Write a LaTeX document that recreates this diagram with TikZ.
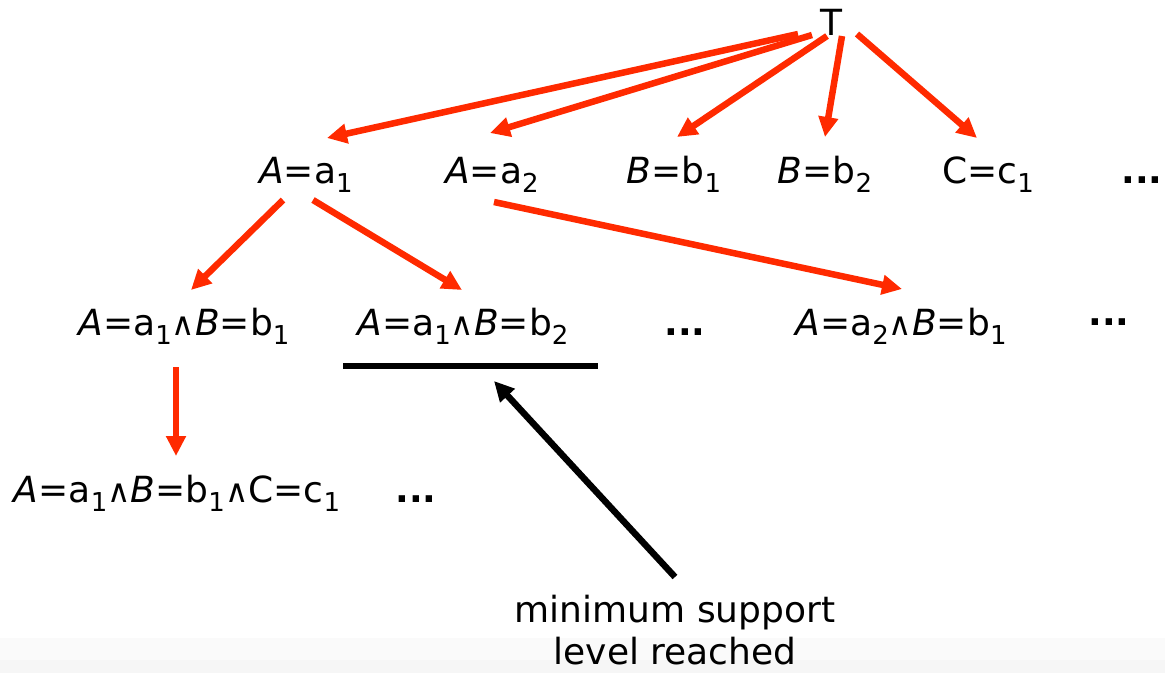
\documentclass[tikz,border=0pt]{standalone}
\usepackage{fontspec}
\setmainfont{DejaVu Sans}
\usetikzlibrary{arrows.meta}
\definecolor{arrowred}{HTML}{FF2A00}
\newcommand{\idx}[1]{\raisebox{-9pt}{\fontsize{26}{26}\selectfont #1}}
\newcommand{\conj}{{\fontsize{32}{32}\selectfont ∧}}

\begin{document}
\begin{tikzpicture}[
    x=1pt, y=-1pt,
    lbl/.style={inner sep=0pt, anchor=base, font=\fontsize{36}{42}\selectfont},
    dotsn/.style={lbl, font=\fontsize{36}{42}\selectfont\bfseries},
    redarrow/.style={-{Triangle[length=20pt,width=19pt]}, line width=6.5pt, draw=arrowred},
    blackarrow/.style={-{Triangle[length=20pt,width=19pt]}, line width=6.5pt, draw=black}
]
\useasboundingbox (0,0) rectangle (1165,673);
\fill[gray!4] (0,638) rectangle (1165,673);
\fill[gray!7] (0,660) rectangle (1165,673);
\node[lbl] (T) at (831,35) {T};
\node[lbl] (a1) at (306,183) {\textit{A}=a\idx{1}};
\node[lbl] (a2) at (492,183) {\textit{A}=a\idx{2}};
\node[lbl] (b1) at (674,183) {\textit{B}=b\idx{1}};
\node[lbl] (b2) at (825,183) {\textit{B}=b\idx{2}};
\node[lbl] (c1) at (988,183) {C=c\idx{1}};
\node[dotsn] (dotsA) at (1142,183) {...};
\node[lbl] (a1b1) at (184,335) {\textit{A}=a\idx{1}\conj\textit{B}=b\idx{1}};
\node[lbl] (a1b2) at (463,335) {\textit{A}=a\idx{1}\conj\textit{B}=b\idx{2}};
\node[dotsn] (dotsB) at (685,335) {...};
\node[lbl] (a2b1) at (901,335) {\textit{A}=a\idx{2}\conj\textit{B}=b\idx{1}};
\node[dotsn] (dotsC) at (1109,325) {...};
\node[lbl] (a1b1c1) at (177,502) {\textit{A}=a\idx{1}\conj\textit{B}=b\idx{1}\conj C=c\idx{1}};
\node[dotsn] (dotsD) at (416,502) {...};
\node[lbl, align=center] (note) at (675,664) {minimum support\\level reached};
\coordinate (ulL) at (343,366);
\coordinate (ulR) at (598,366);
\coordinate (reach) at (494,381);
\draw[redarrow] ([shift={(-33,-1)}]T.base) -- ([shift={(21,-45)}]a1.base);
\draw[redarrow] ([shift={(-19,0)}]T.base) -- ([shift={(-2,-50)}]a2.base);
\draw[redarrow] ([shift={(-4,1)}]T.base) -- ([shift={(3,-46)}]b1.base);
\draw[redarrow] ([shift={(11,1)}]T.base) -- ([shift={(0,-46)}]b2.base);
\draw[redarrow] ([shift={(26,-1)}]T.base) -- ([shift={(-11,-45)}]c1.base);
\draw[redarrow] ([shift={(-23,17)}]a1.base) -- ([shift={(7,-45)}]a1b1.base);
\draw[redarrow] ([shift={(7,17)}]a1.base) -- ([shift={(-1,-45)}]a1b2.base);
\draw[redarrow] ([shift={(2,19)}]a2.base) -- ([shift={(1,-46)}]a2b1.base);
\draw[redarrow] ([shift={(-8,32)}]a1b1.base) -- ([shift={(-1,-46)}]a1b1c1.base);
\draw[line width=5.5pt] (ulL) -- (ulR);
\draw[blackarrow] ([shift={(0,-87)}]note.base) -- (reach);
\end{tikzpicture}
\end{document}
